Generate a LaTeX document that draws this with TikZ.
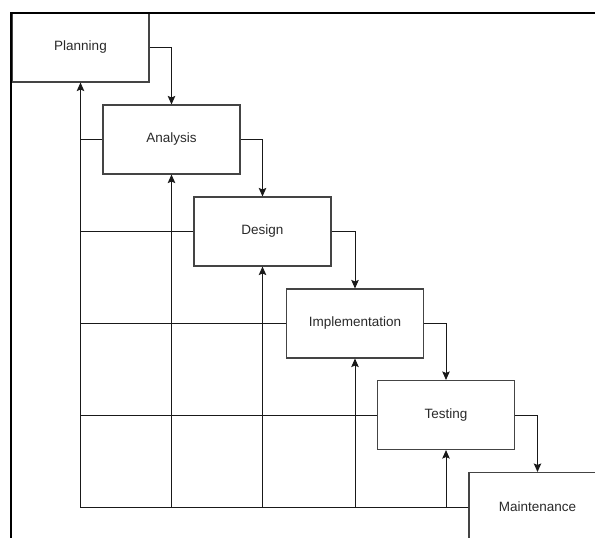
\documentclass[tikz,border=0pt]{standalone}
\usepackage{fontspec}
\setmainfont{Liberation Sans}
\usetikzlibrary{arrows.meta}
\definecolor{boxline}{HTML}{444444}
\definecolor{txt}{HTML}{2a2a2a}
\begin{document}
\begin{tikzpicture}[x=1pt,y=-1pt,
  stagebox/.style={draw=boxline, line width=1.1pt, fill=white, minimum width=137pt, minimum height=69pt, inner sep=0pt, text=txt, font=\fontsize{13.5pt}{16pt}\selectfont},
  conn/.style={draw=black!90, line width=1pt},
  arr/.style={conn, -{Stealth[length=8.5pt,width=7.5pt,inset=1.5pt]}}]
\useasboundingbox (0,0) rectangle (595,538);
\clip (0,0) rectangle (595,538);
\fill[white] (0,0) rectangle (595,538);
% boxes
\node[stagebox] (plan)  at (80.5,47.5)  {Planning};
\node[stagebox] (ana)   at (171.5,139.5) {Analysis};
\node[stagebox] (des)   at (262.5,231.5) {Design};
\node[stagebox] (imp)   at (355,323.5)  {Implementation};
\node[stagebox] (test)  at (446,415)    {Testing};
\node[stagebox] (maint) at (537.5,507)  {Maintenance};
% forward flow
\draw[arr] (plan.east) -| (ana.north);
\draw[arr] (ana.east) -| (des.north);
\draw[arr] (des.east) -| (imp.north);
\draw[arr] (imp.east) -| (test.north);
\draw[arr] (test.east) -| (maint.north);
% feedback
\draw[arr] (maint.west) -| (plan.south);
\draw[arr] (maint.west) -| (ana.south);
\draw[arr] (maint.west) -| (des.south);
\draw[arr] (maint.west) -| (imp.south);
\draw[arr] (maint.west) -| (test.south);
\draw[conn] (ana.west) -- (ana.west -| plan.south);
\draw[conn] (des.west) -- (des.west -| plan.south);
\draw[conn] (imp.west) -- (imp.west -| plan.south);
\draw[conn] (test.west) -- (test.west -| plan.south);
% frame
\draw[black, line width=2.2pt] (11,700) -- (11,13) -- (700,13);
\end{tikzpicture}
\end{document}
